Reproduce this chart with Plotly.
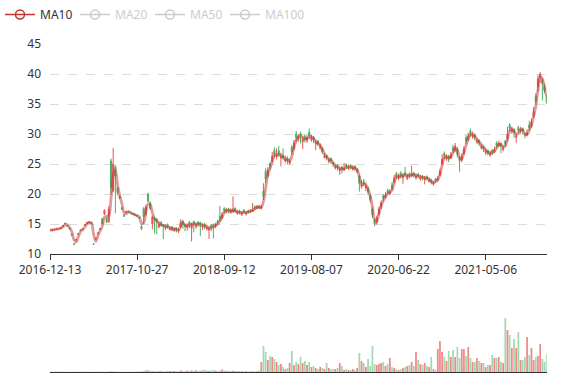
import plotly.graph_objects as go
import pandas as pd

# ---- data (each sample ~ one week of trading) ----
tick_labels = ["2016-12-13", "2017-10-27", "2018-09-12", "2019-08-07", "2020-06-22", "2021-05-06"]
tick_index = [0, 40, 80, 120, 160, 200]

close = [
    14.0, 14.0, 14.1, 14.2, 14.2, 14.4, 14.7, 15.1, 14.6, 14.2,
    13.2, 11.6, 12.4, 13.4, 14.0, 14.1, 14.9, 15.2, 15.3, 15.1,
    11.6, 12.6, 13.5, 14.2, 15.0, 17.3, 15.3, 17.5, 21.0, 25.0,
    23.0, 20.2, 19.3, 17.5, 16.3, 17.1, 17.0, 16.8, 16.6, 16.5,
    16.3, 16.0, 14.2, 16.2, 17.8, 18.8, 17.6, 16.2, 15.6, 15.4,
    14.9, 14.8, 14.7, 14.6, 14.5, 14.3, 14.1, 14.2, 14.0, 14.0,
    15.4, 15.0, 14.6, 14.8, 14.9, 15.0, 15.0, 14.9, 15.0, 14.9,
    14.7, 14.6, 14.4, 14.3, 14.4, 14.6, 14.9, 15.2, 15.7, 16.6,
    17.2, 17.4, 17.1, 17.3, 17.4, 17.1, 17.0, 16.9, 16.9, 17.0,
    16.9, 17.0, 17.2, 17.4, 17.6, 17.9, 17.7, 17.9, 19.6, 22.5,
    24.0, 24.6, 26.3, 26.6, 26.5, 26.6, 26.3, 26.0, 25.8, 25.5,
    25.5, 27.0, 28.5, 29.4, 29.6, 29.7, 29.2, 29.1, 29.4, 29.7,
    29.4, 29.0, 28.6, 28.3, 28.0, 27.0, 26.4, 26.0, 25.7, 25.5,
    24.9, 24.6, 24.4, 24.2, 24.1, 24.3, 24.6, 24.5, 24.4, 24.4,
    24.2, 24.0, 21.8, 21.6, 21.7, 21.3, 20.3, 19.1, 16.5, 15.0,
    16.0, 17.5, 18.5, 19.3, 19.9, 20.2, 20.4, 20.9, 22.7, 22.9,
    23.0, 23.0, 23.1, 23.2, 23.0, 23.0, 23.4, 23.1, 23.0, 23.0,
    22.8, 22.7, 22.7, 22.6, 22.4, 21.9, 21.9, 22.2, 22.6, 23.8,
    25.8, 26.3, 26.2, 25.8, 26.6, 27.2, 28.0, 26.6, 25.5, 26.3,
    27.5, 28.8, 29.7, 30.0, 29.8, 29.4, 28.9, 28.5, 28.0, 27.5,
    27.2, 26.8, 26.8, 26.9, 27.4, 28.0, 28.5, 28.0, 27.7, 28.3,
    30.0, 31.0, 30.8, 30.2, 29.7, 30.6, 30.8, 30.5, 29.7, 30.2,
    31.0, 32.0, 33.8, 35.5, 39.2, 40.0, 38.4, 37.2, 35.3,
]
open_ = [
    14.0, 13.9, 14.0, 14.1, 14.2, 14.3, 14.6, 15.0, 14.7, 14.3,
    13.3, 11.7, 12.3, 13.3, 13.9, 14.2, 14.8, 15.1, 15.2, 15.2,
    11.7, 12.5, 13.4, 14.1, 15.9, 16.6, 16.0, 15.4, 25.5, 20.5,
    24.5, 21.0, 19.6, 17.7, 16.5, 16.9, 17.1, 16.9, 16.7, 16.6,
    16.4, 16.1, 14.6, 17.6, 16.6, 20.0, 18.5, 15.0, 16.0, 15.8,
    14.5, 15.2, 14.9, 14.3, 14.9, 14.1, 14.5, 13.9, 14.3, 13.8,
    14.5, 15.5, 14.9, 14.4, 15.3, 14.3, 15.4, 14.6, 15.3, 15.2,
    14.5, 15.0, 14.2, 14.0, 14.8, 14.9, 14.6, 15.5, 16.3, 16.0,
    17.6, 17.0, 17.5, 16.9, 17.0, 17.6, 16.8, 17.2, 16.6, 17.3,
    16.7, 17.2, 17.0, 17.1, 17.9, 17.6, 18.0, 17.6, 20.5, 23.8,
    23.0, 25.0, 25.5, 27.3, 26.2, 27.2, 26.0, 26.5, 25.5, 26.0,
    25.1, 27.8, 27.6, 30.0, 29.1, 30.1, 28.7, 29.6, 28.9, 30.3,
    29.0, 29.5, 28.3, 28.8, 27.7, 27.6, 26.1, 26.4, 25.4, 25.9,
    25.2, 24.3, 24.8, 23.9, 24.5, 24.0, 24.9, 24.2, 24.8, 24.1,
    24.6, 23.7, 23.0, 21.2, 22.1, 21.0, 20.9, 19.7, 17.5, 15.6,
    15.2, 16.7, 17.8, 19.7, 19.4, 20.6, 20.0, 21.5, 22.0, 23.4,
    22.6, 23.5, 22.7, 23.6, 22.6, 23.4, 23.0, 23.5, 22.7, 23.3,
    22.5, 23.0, 22.4, 22.9, 22.1, 22.3, 21.6, 22.5, 22.3, 23.2,
    25.0, 26.8, 25.8, 26.3, 26.0, 27.7, 27.3, 27.5, 26.0, 25.6,
    26.8, 29.4, 29.0, 30.5, 29.5, 29.9, 28.6, 28.9, 27.7, 27.9,
    26.9, 27.2, 26.5, 27.3, 27.0, 28.5, 28.0, 28.4, 27.4, 28.8,
    29.2, 31.5, 30.4, 30.7, 29.4, 31.1, 30.4, 30.9, 30.0, 29.8,
    31.5, 31.3, 33.0, 36.3, 37.8, 39.5, 39.0, 37.8, 36.2,
]
high = [
    14.1, 14.1, 14.2, 14.3, 14.3, 14.5, 14.8, 15.2, 14.8, 14.4,
    13.4, 11.8, 12.5, 13.5, 14.1, 14.3, 15.0, 15.3, 15.4, 15.3,
    11.8, 12.7, 13.6, 14.3, 16.0, 17.4, 16.1, 18.0, 25.9, 27.7,
    24.8, 21.2, 19.8, 17.8, 16.6, 17.2, 17.2, 17.0, 16.8, 16.7,
    16.5, 16.2, 14.8, 17.8, 18.2, 20.2, 18.8, 16.4, 16.2, 16.0,
    15.4, 15.5, 15.0, 14.9, 15.1, 14.6, 14.7, 14.5, 14.5, 14.3,
    15.8, 15.7, 15.1, 15.1, 15.5, 15.2, 15.6, 15.3, 15.5, 15.4,
    15.1, 15.2, 14.9, 14.6, 15.0, 15.1, 15.2, 15.7, 18.0, 17.0,
    17.8, 17.7, 17.7, 17.6, 19.6, 17.8, 17.3, 17.4, 17.1, 17.5,
    17.2, 17.4, 17.5, 18.5, 18.1, 18.2, 18.2, 18.2, 21.8, 24.3,
    24.5, 25.3, 27.0, 27.8, 27.6, 28.0, 26.9, 27.6, 26.4, 26.3,
    25.9, 28.2, 29.0, 30.5, 30.0, 30.4, 29.6, 29.9, 29.8, 30.9,
    29.9, 29.7, 29.0, 29.0, 28.4, 27.8, 26.8, 26.6, 26.0, 26.1,
    25.4, 24.9, 25.0, 24.5, 24.7, 25.2, 25.1, 24.9, 25.0, 24.8,
    24.8, 24.3, 23.2, 22.3, 22.5, 21.9, 21.2, 20.0, 17.8, 15.9,
    16.4, 17.9, 18.9, 20.0, 20.3, 20.9, 20.8, 22.0, 23.2, 23.7,
    23.4, 23.8, 23.5, 24.5, 23.4, 23.6, 24.7, 23.7, 23.4, 23.5,
    23.2, 23.2, 23.0, 23.1, 22.7, 22.5, 22.2, 22.7, 23.0, 24.2,
    26.6, 27.1, 26.6, 26.5, 27.0, 28.2, 28.5, 27.8, 26.3, 26.8,
    28.0, 29.8, 30.2, 30.9, 30.4, 30.1, 29.3, 29.1, 28.4, 28.1,
    27.6, 27.4, 27.2, 27.5, 27.9, 28.8, 28.9, 28.6, 28.1, 29.0,
    31.2, 31.8, 31.2, 30.9, 30.1, 31.4, 31.2, 31.1, 30.2, 30.8,
    32.2, 32.6, 34.5, 36.8, 39.8, 40.3, 39.4, 38.3, 36.6,
]
low = [
    13.9, 13.9, 14.0, 14.1, 14.1, 14.2, 14.5, 14.9, 14.5, 14.1,
    13.1, 11.5, 12.2, 13.2, 13.8, 14.0, 14.7, 15.0, 15.1, 15.0,
    11.5, 12.4, 13.3, 14.0, 14.9, 16.5, 15.2, 15.2, 20.0, 20.3,
    16.8, 19.8, 19.2, 17.4, 16.2, 16.8, 16.9, 16.7, 16.5, 16.4,
    16.2, 15.9, 14.0, 15.0, 16.4, 18.6, 17.3, 14.1, 13.4, 13.3,
    14.3, 14.6, 12.5, 14.0, 14.2, 13.9, 13.8, 13.7, 13.6, 13.5,
    14.3, 14.2, 13.8, 13.9, 14.3, 12.1, 13.6, 14.2, 14.5, 13.0,
    14.0, 14.1, 13.9, 12.5, 13.8, 12.6, 14.3, 14.8, 15.4, 15.8,
    16.8, 16.8, 16.7, 16.7, 16.9, 16.8, 16.5, 16.6, 16.3, 16.7,
    16.4, 16.8, 16.9, 17.0, 17.4, 17.5, 17.5, 17.4, 19.0, 21.8,
    22.8, 24.0, 25.2, 26.0, 25.8, 26.2, 24.6, 25.7, 25.2, 25.0,
    24.9, 26.5, 27.3, 28.6, 28.7, 28.4, 27.5, 28.6, 28.5, 29.2,
    28.7, 28.5, 27.3, 28.0, 27.4, 26.7, 25.9, 25.6, 25.1, 25.0,
    24.5, 24.1, 23.9, 23.2, 23.4, 23.8, 24.2, 24.0, 24.1, 23.9,
    23.8, 23.4, 20.4, 20.9, 21.3, 20.5, 19.8, 18.6, 16.0, 14.6,
    14.9, 16.4, 17.5, 18.8, 19.2, 19.9, 19.8, 20.6, 21.8, 22.5,
    22.3, 22.6, 21.7, 22.9, 22.3, 22.6, 22.8, 22.7, 22.4, 22.6,
    22.2, 22.3, 21.6, 22.2, 21.9, 21.6, 21.4, 21.9, 22.1, 23.0,
    24.8, 25.8, 25.5, 25.3, 25.8, 26.8, 27.0, 26.1, 23.7, 25.3,
    26.5, 28.3, 28.8, 29.6, 29.2, 28.9, 28.3, 28.0, 27.4, 27.0,
    26.5, 26.4, 26.2, 26.5, 26.8, 27.6, 27.8, 26.8, 27.1, 27.9,
    28.8, 30.4, 30.0, 29.4, 28.5, 30.2, 30.1, 30.0, 29.3, 29.6,
    30.6, 31.0, 32.7, 34.9, 37.0, 38.5, 35.6, 36.8, 35.0,
]
volume = [
    0.2, 0.2, 0.2, 0.2, 0.2, 0.2, 0.2, 0.2, 0.2, 0.2,
    0.2, 0.3, 0.2, 0.2, 0.2, 0.2, 0.2, 0.2, 0.2, 0.2,
    0.3, 0.3, 0.2, 0.3, 0.4, 0.3, 0.3, 0.5, 0.8, 0.6,
    0.4, 0.3, 0.3, 0.3, 0.3, 0.3, 0.3, 0.3, 0.3, 0.4,
    0.4, 0.5, 0.8, 1.0, 1.5, 2.0, 1.2, 0.8, 1.0, 0.7,
    0.8, 1.2, 0.7, 0.6, 0.9, 1.0, 0.7, 1.1, 0.8, 0.6,
    1.5, 1.0, 0.8, 1.4, 1.0, 1.6, 1.2, 1.8, 1.0, 1.4,
    1.5, 2.2, 1.2, 1.0, 1.6, 2.0, 1.4, 1.0, 1.6, 2.6,
    1.6, 1.2, 1.0, 0.8, 1.2, 1.0, 0.8, 0.9, 0.7, 0.6,
    0.8, 0.6, 0.5, 0.7, 0.6, 0.8, 1.5, 10, 26, 20,
    12, 16, 15, 13, 10, 7, 8, 5, 3, 4,
    9, 21, 7, 10, 8, 15, 9, 11, 7, 10,
    5, 6, 4, 3, 5, 4, 3, 9, 4, 3,
    3, 3, 4, 9, 6, 2, 3, 2, 2, 3,
    2, 4, 19, 11, 9, 5, 13, 6, 26, 8,
    7, 8, 9, 10, 6, 8, 14, 5, 4, 3,
    2, 3, 4, 5, 6, 7, 10, 6, 20, 12,
    8, 7, 9, 6, 5, 15, 3, 2, 23, 31,
    20, 15, 11, 21, 15, 22, 15, 25, 14, 23,
    23, 16, 25, 14, 10, 10, 14, 11, 9, 9,
    5, 7, 7, 17, 14, 14, 15, 10, 9, 54,
    42, 37, 24, 33, 24, 40, 12, 12, 15, 35,
    17, 24, 12, 15, 16, 28, 13, 10, 18,
]
ma_names = ["MA10", "MA20", "MA50", "MA100"]
ma_windows = [2, 4, 9, 18]  # in weekly samples

# ---- styling ----
UP, DOWN = "#eb5454", "#47b262"
MA_RED = "#c23531"
FONT = "Noto Sans"
idx = list(range(len(close)))
cs = pd.Series(close)

fig = go.Figure()

# legend proxy for MA10 (full colour icon)
fig.add_trace(go.Scatter(x=[None], y=[None], mode="lines+markers", name="MA10",
                         legendgroup="ma10",
                         line=dict(color=MA_RED, width=1.5),
                         marker=dict(symbol="circle-open", size=9, color=MA_RED,
                                     line=dict(width=1.5))))

fig.add_trace(go.Candlestick(
    x=idx, open=open_, high=high, low=low, close=close, showlegend=False,
    increasing=dict(line=dict(color=UP, width=1), fillcolor=UP),
    decreasing=dict(line=dict(color=DOWN, width=1), fillcolor=DOWN),
    whiskerwidth=0, xaxis="x", yaxis="y", name="K"))

for name, w in zip(ma_names, ma_windows):
    ma = cs.rolling(w, min_periods=1).mean().round(3).tolist()
    if name == "MA10":
        fig.add_trace(go.Scatter(x=idx, y=ma, mode="lines", name=name, legendgroup="ma10",
                                 showlegend=False, line=dict(color="rgba(194,53,49,0.5)",
                                                             width=2.8, shape="spline")))
    else:
        fig.add_trace(go.Scatter(x=idx, y=ma, mode="lines+markers", visible="legendonly",
                                 name=f"<span style='color:#9a9a9a'>{name}</span>",
                                 line=dict(color="#9a9a9a", width=1.5, shape="spline"),
                                 marker=dict(symbol="circle-open", size=9, color="#9a9a9a",
                                             line=dict(width=1.5), maxdisplayed=1)))

# empty spacer entry so the last legend label is not clipped
fig.add_trace(go.Scatter(x=[None], y=[None], mode="none", name=" ", showlegend=True,
                         hoverinfo="skip"))

vol_colors = ["rgba(235,84,84,0.7)" if c >= o else "rgba(71,178,98,0.5)"
              for c, o in zip(close, open_)]
fig.add_trace(go.Bar(x=idx, y=volume, marker=dict(color=vol_colors, line=dict(width=0)),
                     xaxis="x2", yaxis="y2", showlegend=False, name="Volume"))

W, H = 577, 380
x0, x1 = 50 / W, 546.7 / W
fig.update_layout(
    width=W, height=H, margin=dict(l=0, r=0, t=0, b=0, autoexpand=False),
    paper_bgcolor="white", plot_bgcolor="white",
    font=dict(family=FONT, size=12, color="#333"),
    bargap=0.2,
    legend=dict(orientation="h", x=0.0, y=1.0, xanchor="left", yanchor="top",
                font=dict(size=12, color="#333"), entrywidth=30, entrywidthmode="pixels",
                itemclick="toggle", bgcolor="rgba(0,0,0,0)"),
    xaxis=dict(domain=[x0, x1], range=[0, len(close) - 1], anchor="y",
               tickmode="array", tickvals=tick_index, ticktext=tick_labels,
               ticks="outside", ticklen=5, tickcolor="#333", showline=True,
               linecolor="#333", linewidth=1, showgrid=False, zeroline=False,
               rangeslider=dict(visible=False), tickfont=dict(size=12, color="#333")),
    yaxis=dict(domain=[(H - 254) / H, (H - 44) / H], range=[10, 45], dtick=5,
               showgrid=True, gridcolor="#dcdcdc", griddash="dash", gridwidth=1,
               zeroline=False, showline=False, ticks="", ticklabelstandoff=8,
               tickfont=dict(size=12, color="#333"), anchor="x"),
    xaxis2=dict(domain=[x0, x1], range=[0, len(close) - 1], anchor="y2",
                showticklabels=False, ticks="", showline=True, linecolor="#333",
                linewidth=1, showgrid=False, zeroline=False),
    yaxis2=dict(domain=[(H - 372) / H, (H - 292) / H], range=[0, 80], anchor="x2",
                showticklabels=False, showgrid=False, zeroline=False, showline=False),
)

fig.write_html("out.html", config={"displayModeBar": False},
               post_script="document.body.style.margin='0';document.body.style.overflow='hidden';")
